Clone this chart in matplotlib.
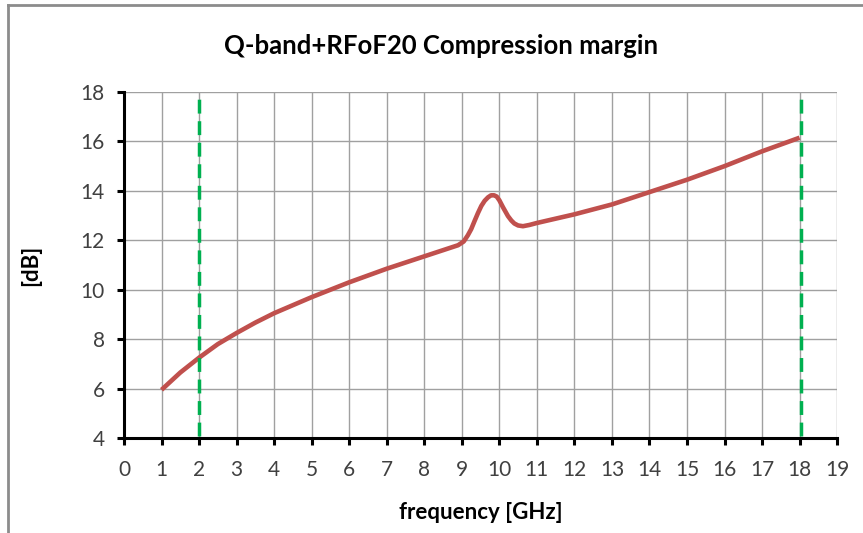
import matplotlib.pyplot as plt
from matplotlib.lines import Line2D

# data
freq = [1.0, 1.5, 2.0, 2.5, 3.0, 3.5, 4.0, 5.0, 6.0, 7.0, 8.0, 8.5, 8.9, 9.05, 9.16, 9.25, 9.34,
        9.43, 9.52, 9.61, 9.7, 9.78, 9.86, 9.93, 10.0, 10.1, 10.23, 10.32, 10.4, 10.5, 10.63,
        10.8, 11.0, 12.0, 13.0, 14.0, 15.0, 16.0, 17.0, 18.0]
margin = [5.95, 6.65, 7.25, 7.8, 8.25, 8.67, 9.05, 9.7, 10.3, 10.85, 11.35, 11.6, 11.8, 11.95, 12.2, 12.45, 12.78,
          13.1, 13.39, 13.6, 13.74, 13.82, 13.82, 13.77, 13.62, 13.33, 12.98, 12.8, 12.68, 12.6, 12.57,
          12.62, 12.7, 13.05, 13.45, 13.95, 14.45, 15.0, 15.6, 16.15]
band_edges = [2.0, 18.05]
x_ticks = list(range(0, 20))
y_ticks = list(range(4, 19, 2))

plt.rcParams['font.family'] = ['Lato', 'DejaVu Sans']

fig = plt.figure(figsize=(8.63, 5.33), dpi=100)
ax = fig.add_axes([0.1437, 0.1782, 0.8263, 0.6492])

# chart frame (left and top edges only, as in the source image)
fig.add_artist(Line2D([8 / 863, 8 / 863], [0, 1 - 5 / 533], color='#8c8c8c', lw=2))
fig.add_artist(Line2D([8 / 863, 1], [1 - 5 / 533, 1 - 5 / 533], color='#8c8c8c', lw=2))

ax.plot(freq, margin, color='#C0504D', lw=3.3, solid_capstyle='butt', solid_joinstyle='round', zorder=3)
for xe in band_edges:
    ax.plot([xe, xe], [4.1, 17.95], color='#00B050', lw=2.5, dashes=(4, 2.2), zorder=4)

ax.set_xlim(0, 19)
ax.set_ylim(4, 18)
ax.set_xticks(x_ticks)
ax.set_yticks(y_ticks)
ax.grid(True, color='#a0a0a0', lw=1)
ax.set_axisbelow(True)

for side in ['top', 'right']:
    ax.spines[side].set_visible(False)
for side in ['left', 'bottom']:
    ax.spines[side].set_linewidth(2.2)
    ax.spines[side].set_color('black')
ax.tick_params(direction='out', length=5, width=2.2, colors='black', labelcolor='#404040', labelsize=15)
ax.tick_params(axis='x', pad=11)
ax.tick_params(axis='y', pad=9)

# title is centred on the whole chart area, not on the plot
fig.text(0.511, 1 - 46 / 533, 'Q-band+RFoF20 Compression margin', fontsize=18.5, fontweight='bold',
         ha='center', va='center', color='black')
ax.set_xlabel('frequency [GHz]', fontsize=16, fontweight='bold', labelpad=16)
ax.set_ylabel('[dB]', fontsize=16, fontweight='bold', labelpad=28)

fig.savefig('out.png', dpi=100)
